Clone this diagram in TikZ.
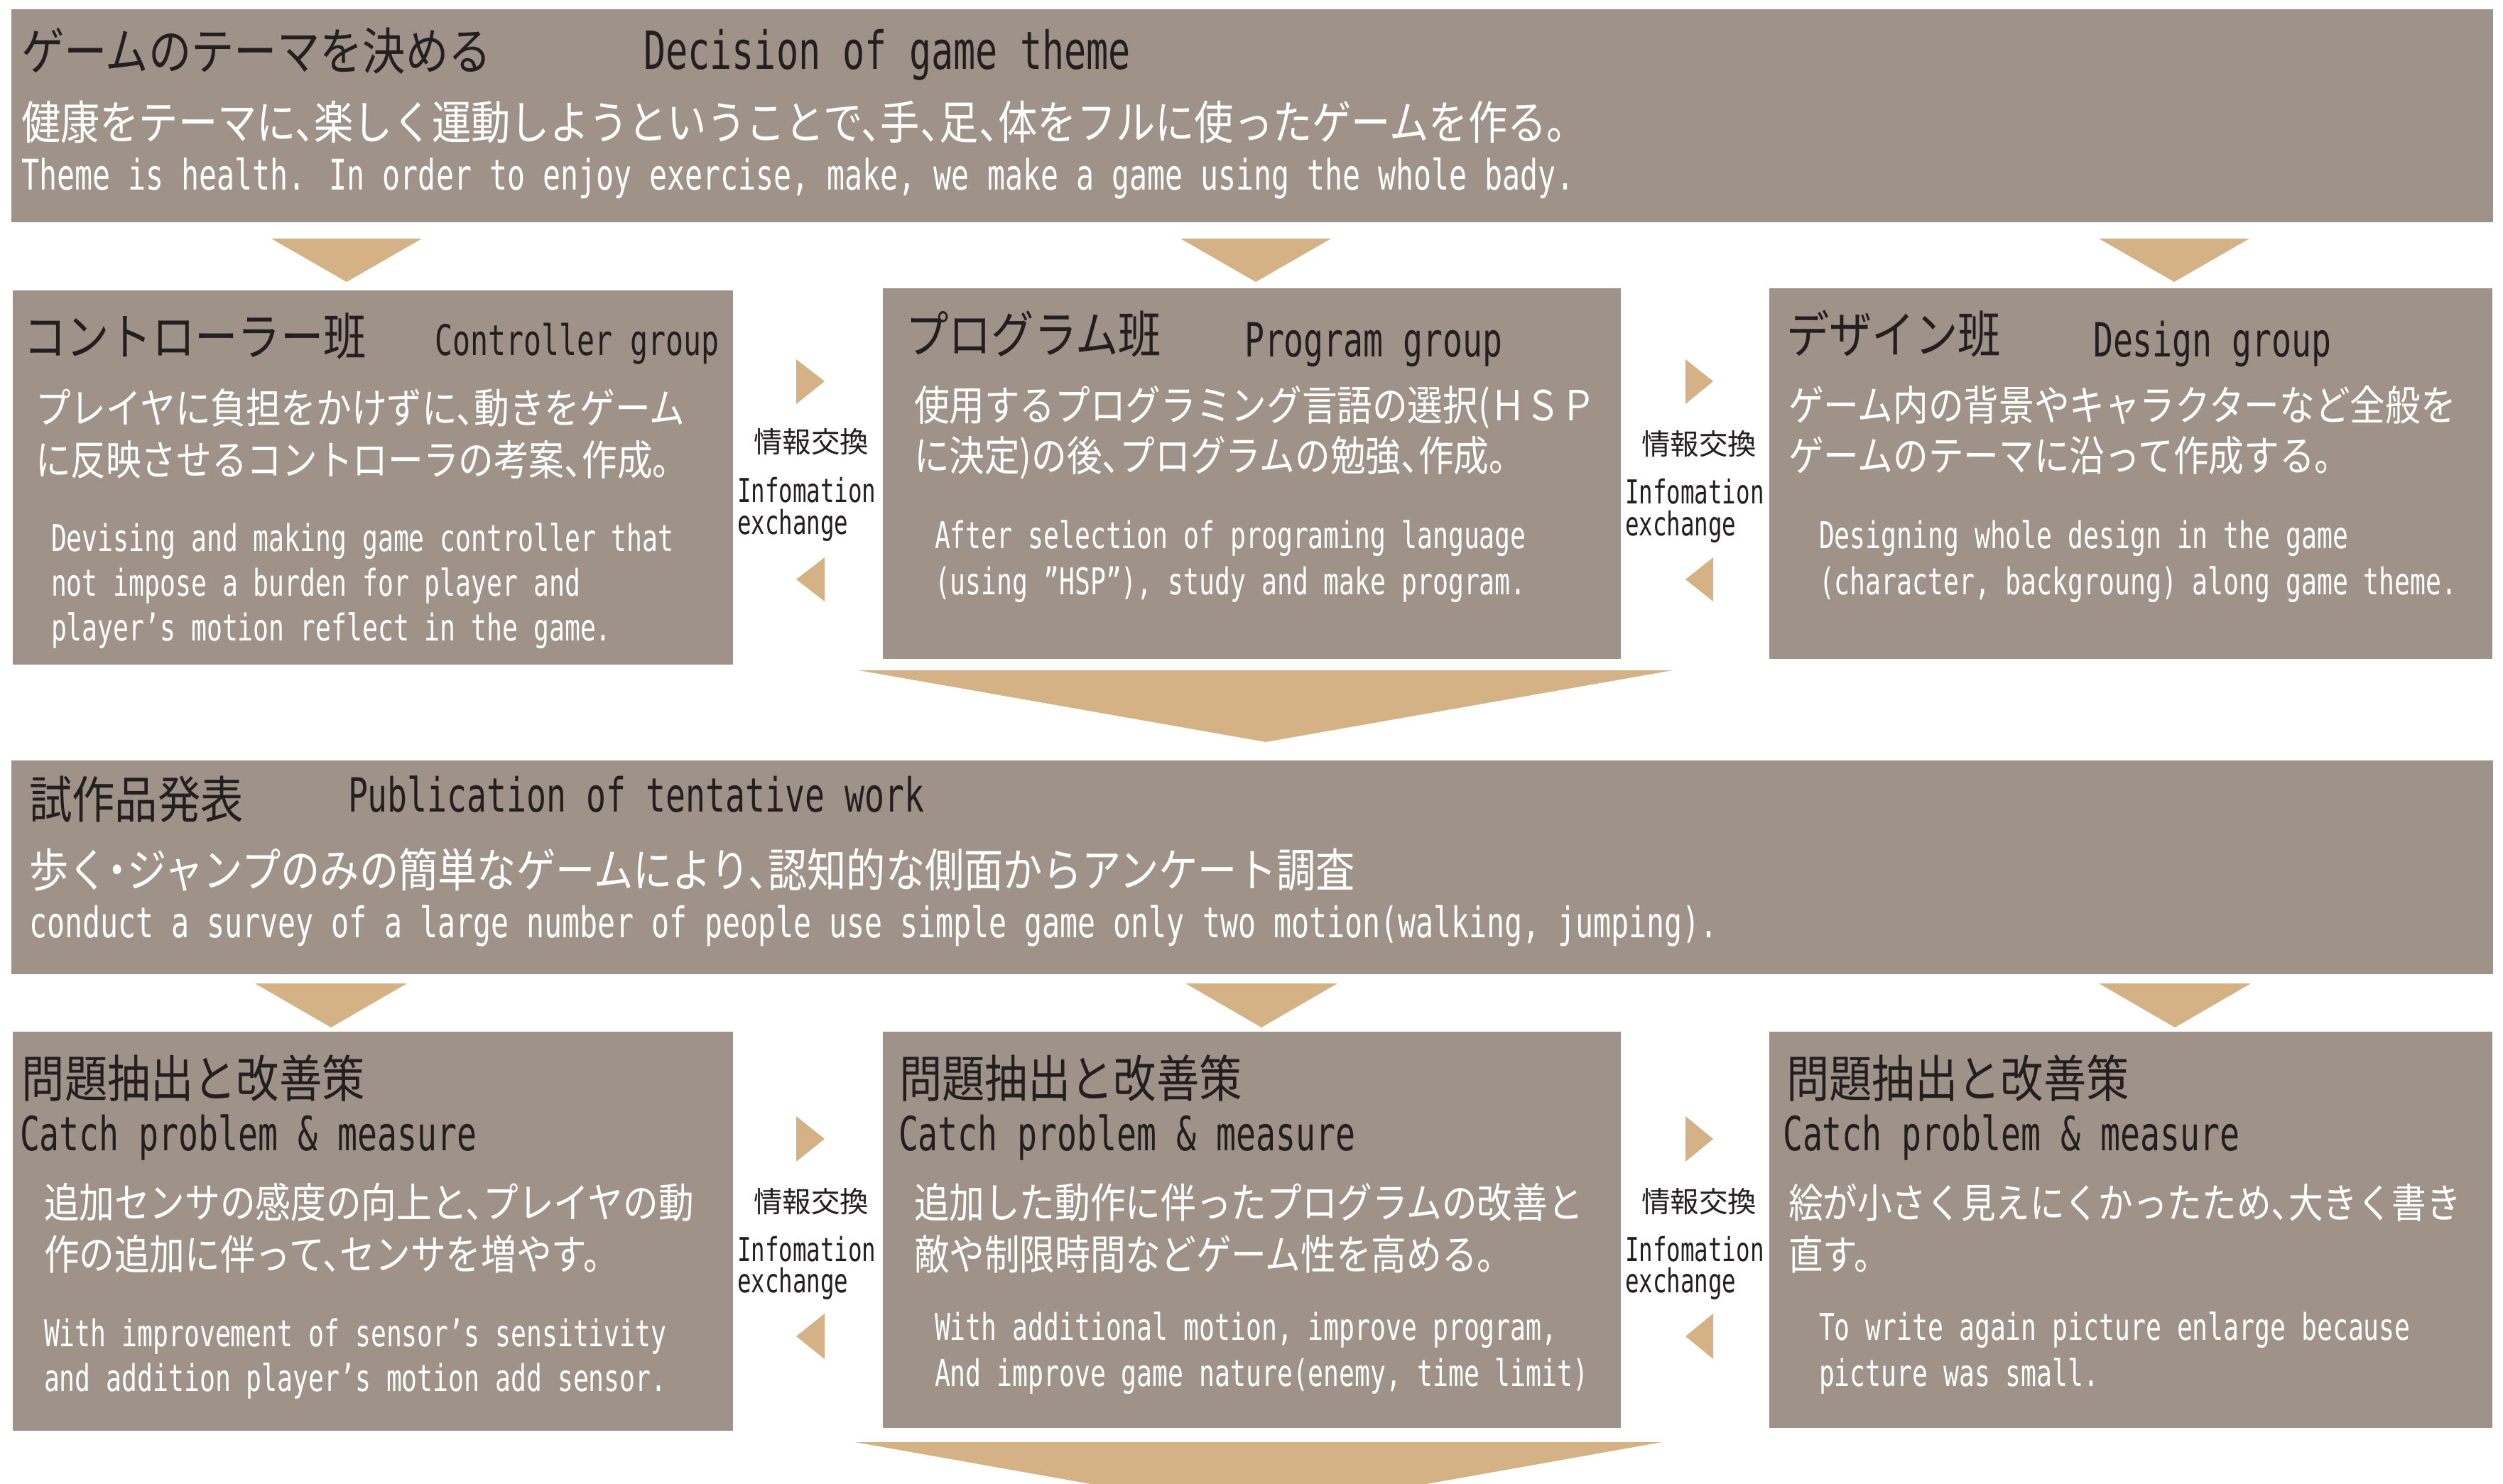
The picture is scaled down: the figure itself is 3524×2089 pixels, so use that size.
\documentclass[tikz,border=0pt]{standalone}
\usepackage{fontspec}
\newfontfamily\jp[FakeStretch=0.85,RawFeature={+halt}]{Noto Sans CJK JP}
\newfontfamily\jpw{Noto Sans CJK JP}
\newfontfamily\en[FakeStretch=0.70]{DejaVu Sans Mono}
\definecolor{boxc}{HTML}{9F9389}
\definecolor{arr}{HTML}{D4B286}
\definecolor{ink}{HTML}{231F20}
\begin{document}
\begin{tikzpicture}[x=0.5pt,y=-0.5pt,
  box/.style={fill=boxc, draw=none, inner sep=0, outer sep=0, anchor=north west},
  tri/.style={fill=arr, draw=none},
  t/.style={inner sep=0, outer sep=0, anchor=base west},
  jtitle/.style={t, text=ink, font=\jp\fontsize{35.5}{40}\selectfont},
  etitleL/.style={t, text=ink, font=\en\fontsize{37}{40}\selectfont},
  etitle/.style={t, text=ink, font=\en\fontsize{33.2}{36}\selectfont},
  etitleS/.style={t, text=ink, font=\en\fontsize{29.7}{32}\selectfont},
  jwide/.style={t, text=white, font=\jp\fontsize{32.5}{36}\selectfont},
  ewide/.style={t, text=white, font=\en\fontsize{29.7}{32}\selectfont},
  jbody/.style={t, text=white, font=\jp\fontsize{29.2}{32}\selectfont},
  jbodyS/.style={t, text=white, font=\jp\fontsize{28.6}{32}\selectfont},
  ebody/.style={t, text=white, font=\en\fontsize{26}{30}\selectfont},
  xlabj/.style={inner sep=0, outer sep=0, anchor=base, text=ink, font=\jpw\fontsize{20.25}{22}\selectfont},
  xlabe/.style={t, text=ink, font=\en\fontsize{23.2}{26}\selectfont}
]
\useasboundingbox (0,0) rectangle (3524,2089);
\clip (0,0) rectangle (3524,2089);

% ---------- boxes ----------
\node[box, minimum width=1747pt, minimum height=150pt] (theme) at (16,13) {};
\node[box, minimum width=507pt, minimum height=263.5pt] (ctrl) at (18,409) {};
\node[box, minimum width=519.5pt, minimum height=261pt] (prog) at (1243,406) {};
\node[box, minimum width=509pt, minimum height=261pt] (dsgn) at (2491,406) {};
\node[box, minimum width=1747pt, minimum height=150.5pt] (pub) at (16,1071) {};
\node[box, minimum width=507pt, minimum height=281pt] (cp1) at (18,1453) {};
\node[box, minimum width=519.5pt, minimum height=279pt] (cp2) at (1243,1453) {};
\node[box, minimum width=509pt, minimum height=279pt] (cp3) at (2491,1453) {};

% ---------- down triangles ----------
\foreach \cx in {488,1768,3061}
  \fill[tri] (\cx-106,336) -- (\cx+106,336) -- (\cx,397) -- cycle;
\foreach \cx in {466,1776,3062}
  \fill[tri] (\cx-107,1385) -- (\cx+107,1385) -- (\cx,1447) -- cycle;
% merge arrows
\fill[tri] (1209,944) -- (2355,944) -- (1782,1045) -- cycle;
\fill[tri] (1204,2031) -- (2340,2031) -- (1772,2132) -- cycle;

% ---------- side triangles ----------
\foreach \ax/\bx in {1121/1161, 2373/2412}{
  \fill[tri] (\ax,506) -- (\ax,569) -- (\bx,537) -- cycle;
  \fill[tri] (\bx,785) -- (\bx,847) -- (\ax,816) -- cycle;
  \fill[tri] (\ax,1572) -- (\ax,1636) -- (\bx,1604) -- cycle;
  \fill[tri] (\bx,1850) -- (\bx,1914) -- (\ax,1882) -- cycle;
}

% ---------- exchange labels ----------
\node[xlabj] (x1j) at (1142,637) {情報交換};
\node[xlabe] (x1e) at (1038,707) {Infomation};
\node[xlabe] (x1f) at (1038,752) {exchange};
\node[xlabj] (x2j) at (2392,640) {情報交換};
\node[xlabe] (x2e) at (2288,709) {Infomation};
\node[xlabe] (x2f) at (2288,754) {exchange};
\node[xlabj] (x3j) at (1142,1707) {情報交換};
\node[xlabe] (x3e) at (1038,1776) {Infomation};
\node[xlabe] (x3f) at (1038,1820) {exchange};
\node[xlabj] (x4j) at (2392,1707) {情報交換};
\node[xlabe] (x4e) at (2288,1776) {Infomation};
\node[xlabe] (x4f) at (2288,1820) {exchange};

% ---------- theme box ----------
\node[jtitle] (thj) at (30,98) {ゲームのテーマを決める};
\node[etitleL] (the) at (906,97) {Decision of game theme};
\node[jwide] (thb) at (30,196) {健康をテーマに、楽しく運動しようということで、手、足、体をフルに使ったゲームを作る。};
\node[ewide] (thc) at (30,267) {Theme is health. In order to enjoy exercise, make, we make a game using the whole bady.};

% ---------- controller ----------
\node[jtitle] (cj) at (33,500) {コントローラー班};
\node[etitleS] (ce) at (612,500) {Controller group};
\node[jbody] (cb1) at (50,596) {プレイヤに負担をかけずに、動きをゲーム};
\node[jbody] (cb2) at (50,669) {に反映させるコントローラの考案、作成。};
\node[ebody] (ce1) at (72,776) {Devising and making game controller that};
\node[ebody] (ce2) at (72,839) {not impose a burden for player and};
\node[ebody] (ce3) at (72,902) {player’s motion reflect in the game.};

% ---------- program ----------
\node[jtitle] (pj) at (1275,497) {プログラム班};
\node[etitle] (pe) at (1752,502) {Program group};
\node[jbody] (pb1) at (1287,592) {使用するプログラミング言語の選択(ＨＳＰ};
\node[jbody] (pb2) at (1287,663) {に決定)の後、プログラムの勉強、作成。};
\node[ebody] (pe1) at (1316,772) {After selection of programing language};
\node[ebody] (pe2) at (1316,837) {(using ”HSP”), study and make program.};

% ---------- design ----------
\node[jtitle] (dj) at (2515,497) {デザイン班};
\node[etitle] (de) at (2947,502) {Design group};
\node[jbody] (db1) at (2518,592) {ゲーム内の背景やキャラクターなど全般を};
\node[jbody] (db2) at (2518,663) {ゲームのテーマに沿って作成する。};
\node[ebody] (de1) at (2561,772) {Designing whole design in the game};
\node[ebody] (de2) at (2561,837) {(character, backgroung) along game theme.};

% ---------- publication ----------
\node[jtitle] (uj) at (41,1152) {試作品発表};
\node[etitle] (ue) at (490,1143) {Publication of tentative work};
\node[jwide] (ub) at (41,1249) {歩く・ジャンプのみの簡単なゲームにより、認知的な側面からアンケート調査};
\node[ewide] (uc) at (41,1320) {conduct a survey of a large number of people use simple game only two motion(walking, jumping).};

% ---------- catch problem 1 ----------
\node[jtitle] (q1j) at (31,1545) {問題抽出と改善策};
\node[etitle] (q1e) at (28,1620) {Catch problem \& measure};
\node[jbody] (q1b1) at (62,1715) {追加センサの感度の向上と、プレイヤの動};
\node[jbody] (q1b2) at (62,1788) {作の追加に伴って、センサを増やす。};
\node[ebody] (q1e1) at (62,1896) {With improvement of sensor’s sensitivity};
\node[ebody] (q1e2) at (62,1959) {and addition player’s motion add sensor.};

% ---------- catch problem 2 ----------
\node[jtitle] (q2j) at (1266,1545) {問題抽出と改善策};
\node[etitle] (q2e) at (1265,1620) {Catch problem \& measure};
\node[jbody] (q2b1) at (1287,1715) {追加した動作に伴ったプログラムの改善と};
\node[jbody] (q2b2) at (1287,1788) {敵や制限時間などゲーム性を高める。};
\node[ebody] (q2e1) at (1316,1887) {With additional motion, improve program,};
\node[ebody] (q2e2) at (1316,1952) {And improve game nature(enemy, time limit)};

% ---------- catch problem 3 ----------
\node[jtitle] (q3j) at (2515,1545) {問題抽出と改善策};
\node[etitle] (q3e) at (2510,1620) {Catch problem \& measure};
\node[jbodyS] (q3b1) at (2518,1715) {絵が小さく見えにくかったため、大きく書き};
\node[jbodyS] (q3b2) at (2518,1788) {直す。};
\node[ebody] (q3e1) at (2561,1887) {To write again picture enlarge because};
\node[ebody] (q3e2) at (2561,1952) {picture was small.};
\end{tikzpicture}
\end{document}
